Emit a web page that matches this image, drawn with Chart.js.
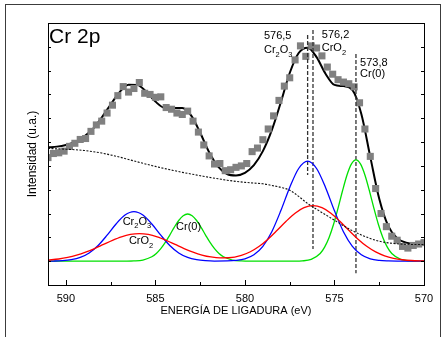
<!DOCTYPE html>
<html>
<head>
<meta charset="utf-8">
<script src="https://cdn.jsdelivr.net/npm/chart.js@4/dist/chart.umd.min.js"></script>
<style>
  html, body { margin: 0; padding: 0; background: #fff; }
  #wrap { position: relative; width: 442px; height: 337px; overflow: hidden; }
  #frame { position: absolute; left: 5px; top: 4px; width: 436px; height: 400px; border: 1px solid #3c3c3c; box-sizing: border-box; }
  canvas { position: absolute; left: 0; top: 0; }
</style>
</head>
<body>
<div id="wrap">
  <div id="frame"></div>
  <canvas id="c" width="442" height="337"></canvas>
</div>
<script>
// Cr 2p XPS spectrum: binding energy (eV) vs intensity (a.u.)

// measured spectrum (grey squares)
const dataEnergy = [591.0,590.7,590.4,590.1,589.8,589.5,589.2,588.9,588.6,588.3,588.0,587.7,587.4,587.1,586.8,586.5,586.2,585.9,585.6,585.3,585.0,584.7,584.4,584.1,583.8,583.5,583.2,582.9,582.6,582.3,582.0,581.7,581.4,581.1,580.8,580.5,580.2,579.9,579.6,579.3,579.0,578.7,578.4,578.1,577.8,577.5,577.2,576.9,576.6,576.3,576.0,575.7,575.4,575.1,574.8,574.5,574.2,573.9,573.6,573.3,573.0,572.7,572.4,572.1,571.8,571.5,571.2,570.9,570.6,570.3,570.0];
const dataCounts = [4.35,4.52,4.55,4.62,4.82,4.95,5.11,5.15,5.45,5.72,5.88,6.22,6.55,6.95,7.33,7.10,7.25,7.50,7.05,7.00,6.88,6.90,6.45,6.38,6.22,6.16,6.30,5.88,5.42,4.88,4.42,4.08,4.10,3.80,3.84,3.94,4.00,4.10,4.60,4.75,5.10,5.55,6.10,6.75,7.35,7.70,8.45,9.04,8.60,9.04,8.95,8.62,8.15,7.85,7.62,7.52,7.45,7.32,6.65,5.55,4.40,3.05,2.00,1.45,1.05,0.88,0.62,0.55,0.66,0.72,0.78];

// envelope fit and Shirley-type background
const gridEnergy = [591,590.5,590,589.5,589,588.5,588,587.5,587,586.5,586,585.5,585,584.5,584,583.5,583,582.5,582,581.5,581,580.5,580,579.5,579,578.5,578,577.5,577,576.5,576,575.5,575,574.5,574,573.5,573,572.5,572,571.5,571,570.5,570];
const fitIntensity = [4.78,4.81,4.88,5.00,5.22,5.55,6.03,6.58,7.10,7.41,7.40,7.10,6.70,6.44,6.43,6.43,6.11,5.39,4.57,3.97,3.66,3.60,3.71,4.03,4.62,5.50,6.66,7.90,8.74,8.96,8.57,7.87,7.40,7.35,7.19,6.18,4.38,2.62,1.48,0.96,0.78,0.72,0.71];
const backgroundIntensity = [4.73,4.72,4.70,4.68,4.65,4.60,4.54,4.46,4.37,4.27,4.17,4.07,3.98,3.89,3.81,3.73,3.66,3.59,3.52,3.46,3.40,3.35,3.31,3.28,3.25,3.18,3.10,2.98,2.72,2.42,2.18,1.95,1.72,1.49,1.28,1.10,0.95,0.84,0.77,0.73,0.71,0.70,0.70];

// Cr2O3 component (2p1/2 and 2p3/2)
const cr2o3Energy = [591.0,590.7,590.2,589.7,589.2,588.7,588.2,587.7,587.2,586.7,586.2,585.7,585.2,584.7,584.2,583.7,583.2,582.7,582.2,581.7,581.0,580.5,580.0,579.5,579.0,578.5,578.0,577.5,577.0,576.5,576.0,575.5,575.0,574.5,574.0,573.5,573.0,572.5,572.0,571.5,570.0];
const cr2o3Intensity = [0.003,0.006,0.021,0.062,0.157,0.346,0.660,1.091,1.561,1.937,2.080,1.937,1.561,1.091,0.660,0.346,0.157,0.062,0.021,0.006,0.010,0.032,0.100,0.270,0.624,1.239,2.113,3.096,3.891,4.200,3.891,3.096,2.113,1.239,0.624,0.270,0.100,0.032,0.009,0.002,0.000];

// CrO2 component
const cro2Energy = [591.0,590.4,589.9,589.4,588.9,588.4,587.9,587.4,586.9,586.4,585.9,585.4,584.9,584.4,583.9,583.4,582.9,582.4,581.9,581.4,580.9,580.2,579.7,579.2,578.7,578.2,577.7,577.2,576.7,576.2,575.7,575.2,574.7,574.2,573.7,573.2,572.7,572.2,571.7,571.2,570.7,570.0];
const cro2Intensity = [0.045,0.092,0.157,0.251,0.377,0.531,0.704,0.876,1.024,1.124,1.160,1.124,1.024,0.876,0.704,0.531,0.380,0.259,0.177,0.137,0.144,0.245,0.397,0.626,0.935,1.299,1.677,2.013,2.246,2.330,2.246,2.013,1.677,1.299,0.935,0.626,0.389,0.225,0.121,0.060,0.028,0.009];

// metallic Cr(0) component
const cr0Energy = [591.0,587.0,586.7,586.2,585.7,585.2,584.95,584.7,584.45,584.2,583.95,583.7,583.45,583.2,582.95,582.7,582.45,582.2,581.95,581.7,581.45,581.2,580.7,580.2,579.7,577.8,577.3,576.8,576.3,575.8,575.55,575.3,575.05,574.8,574.55,574.3,574.05,573.8,573.55,573.3,573.05,572.8,572.55,572.3,572.05,571.8,571.3,570.8,570.3,570.0];
const cr0Intensity = [0,0,0.001,0.010,0.049,0.186,0.324,0.524,0.787,1.097,1.420,1.708,1.908,1.980,1.908,1.708,1.420,1.097,0.787,0.524,0.324,0.186,0.049,0.010,0.001,0,0.002,0.013,0.075,0.321,0.589,0.995,1.550,2.229,2.956,3.617,4.082,4.250,4.082,3.617,2.956,2.229,1.550,0.995,0.589,0.321,0.075,0.013,0.002,0];

// peak positions marked with dashed lines: energy, top and bottom intensity
const markEnergy = [576.5, 576.2, 573.8];
const markTop = [9.50, 9.71, 8.70];
const markBottom = [3.62, 0.51, -0.51];

const xTicks = [590, 585, 580, 575, 570];

const FONT = "'Liberation Sans', Arial, Helvetica, sans-serif";

const pts = (xs, ys) => xs.map((x, i) => ({ x, y: ys[i] }));

const curve = (xs, ys, color, width, extra) => Object.assign({
  data: pts(xs, ys), borderColor: color, borderWidth: width, pointRadius: 0,
  fill: false, cubicInterpolationMode: 'monotone', clip: 0
}, extra || {});

const datasets = [
  curve(gridEnergy, backgroundIntensity, '#111', 1.1, { borderDash: [2, 1.5] }),
  curve(cro2Energy, cro2Intensity, '#ff0000', 1.3),
  curve(cr2o3Energy, cr2o3Intensity, '#0000ff', 1.3),
  curve(cr0Energy, cr0Intensity, '#00e000', 1.3),
];
markEnergy.forEach((e, i) => {
  datasets.push({
    data: [{ x: e, y: markTop[i] }, { x: e, y: markBottom[i] }],
    borderColor: '#333', borderWidth: 1.3, borderDash: [4, 2], pointRadius: 0, fill: false, clip: 0
  });
});
datasets.push({
  data: pts(dataEnergy, dataCounts), showLine: false, pointStyle: 'rect',
  pointRadius: 5, pointBorderWidth: 0, pointBackgroundColor: '#808080', borderColor: '#808080', clip: 0
});
datasets.push(curve(gridEnergy, fitIntensity, '#000', 2));

// text labels with chemical subscripts, placed in data coordinates
const textLabels = [
  { e: 590.94, v: 9.16, size: 21, parts: [['Cr 2p', 0]] },
  { e: 578.94, v: 9.31, size: 11, parts: [['576,5', 0]] },
  { e: 578.94, v: 8.72, size: 11, parts: [['Cr', 0], ['2', 1], ['O', 0], ['3', 1]] },
  { e: 575.71, v: 9.38, size: 11, parts: [['576,2', 0]] },
  { e: 575.71, v: 8.82, size: 11, parts: [['CrO', 0], ['2', 1]] },
  { e: 573.57, v: 8.19, size: 11, parts: [['573,8', 0]] },
  { e: 573.57, v: 7.73, size: 11, parts: [['Cr(0)', 0]] },
  { e: 586.83, v: 1.52, size: 11, parts: [['Cr', 0], ['2', 1], ['O', 0], ['3', 1]] },
  { e: 586.48, v: 0.72, size: 11, parts: [['CrO', 0], ['2', 1]] },
  { e: 583.85, v: 1.29, size: 11, parts: [['Cr(0)', 0]] },
];

const annotate = {
  id: 'annotate',
  afterDatasetsDraw(chart) {
    const { ctx, chartArea: a, scales: { x, y } } = chart;
    ctx.save();
    // plot frame
    ctx.strokeStyle = '#000';
    ctx.lineWidth = 1;
    ctx.strokeRect(Math.round(a.left) + 0.5, Math.round(a.top) + 0.5, Math.round(a.right - a.left), Math.round(a.bottom - a.top));
    // inward tick marks
    ctx.beginPath();
    for (let e = 570; e <= 591; e += 2.5) {
      const px = Math.round(x.getPixelForValue(e)) + 0.5;
      const len = (e % 5 === 0) ? 5 : 3;
      ctx.moveTo(px, a.bottom); ctx.lineTo(px, a.bottom - len);
    }
    for (let v = 0; v <= 9; v++) {
      const py = Math.round(y.getPixelForValue(v)) + 0.5;
      ctx.moveTo(a.left, py); ctx.lineTo(a.left + 3, py);
      ctx.moveTo(a.right, py); ctx.lineTo(a.right - 3, py);
    }
    ctx.stroke();
    // labels
    ctx.fillStyle = '#000';
    ctx.textBaseline = 'alphabetic';
    textLabels.forEach(l => {
      let px = x.getPixelForValue(l.e);
      const py = y.getPixelForValue(l.v);
      l.parts.forEach(([t, sub]) => {
        const fs = sub ? l.size * 0.68 : l.size;
        ctx.font = fs + 'px ' + FONT;
        ctx.fillText(t, px, py + (sub ? l.size * 0.32 : 0));
        px += ctx.measureText(t).width;
      });
    });
    ctx.restore();
  }
};

new Chart(document.getElementById('c'), {
  type: 'line',
  data: { datasets },
  options: {
    responsive: false,
    animation: false,
    devicePixelRatio: 1,
    layout: { padding: { top: 23, right: 18, left: 0, bottom: 0 } },
    plugins: { legend: { display: false }, tooltip: { enabled: false } },
    elements: { line: { tension: 0 } },
    scales: {
      x: {
        type: 'linear', reverse: true, min: 570, max: 591,
        afterBuildTicks: s => { s.ticks = xTicks.map(v => ({ value: v })); },
        ticks: { font: { family: FONT, size: 11 }, color: '#000', padding: 7, maxRotation: 0, autoSkip: false },
        grid: { display: false, drawTicks: false },
        border: { display: false },
        title: { display: true, text: 'ENERGÍA DE LIGADURA (eV)', color: '#000', font: { family: FONT, size: 11 }, padding: { top: 0, bottom: 19 } },
        afterFit: s => { s.height = 52; }
      },
      y: {
        min: -1, max: 10,
        ticks: { display: false, stepSize: 1 },
        grid: { display: false, drawTicks: false },
        border: { display: false },
        title: { display: true, text: 'Intensidad (u.a.)', color: '#000', font: { family: FONT, size: 12 }, padding: { top: 25, bottom: 0 } },
        afterFit: s => { s.width = 48; }
      }
    }
  },
  plugins: [annotate]
});
</script>
</body>
</html>
